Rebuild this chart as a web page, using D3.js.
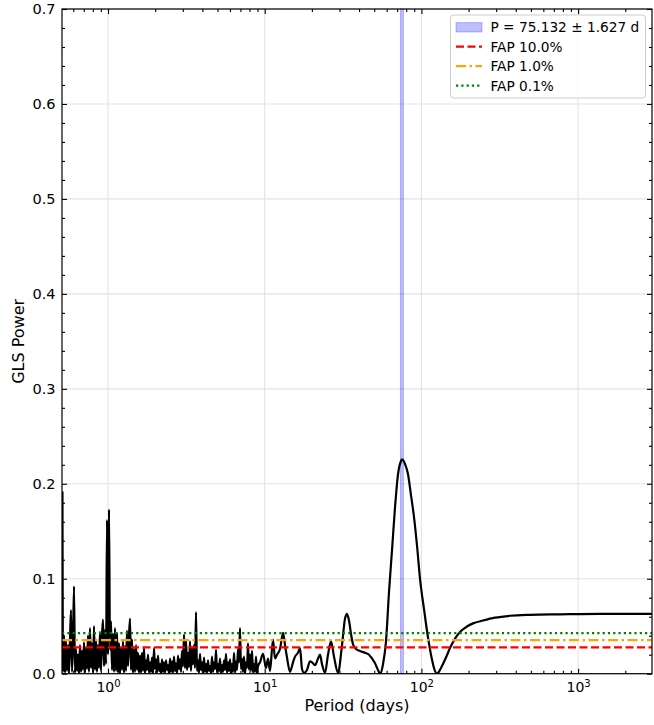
<!DOCTYPE html>
<html>
<head>
<meta charset="utf-8">
<script src="https://cdn.jsdelivr.net/npm/d3@7"></script>
<style>
body { margin: 0; background: #fff; }
svg { font-family: "DejaVu Sans", sans-serif; }
</style>
</head>
<body>
<div class="chart"></div>
<script>
// periodogram: period (days) and GLS power
var periods = [
    0.5120, 0.5162, 0.5238, 0.5316, 0.5394, 0.5474, 0.5555, 0.5637, 0.5721, 0.5805,
    0.5891, 0.5978, 0.6067, 0.6156, 0.6248, 0.6340, 0.6434, 0.6529, 0.6626, 0.6724,
    0.6823, 0.6924, 0.7027, 0.7131, 0.7236, 0.7343, 0.7452, 0.7562, 0.7674, 0.7788,
    0.7903, 0.8020, 0.8138, 0.8259, 0.8381, 0.8505, 0.8631, 0.8759, 0.8888, 0.9020,
    0.9156, 0.9292, 0.9429, 0.9569, 0.9711, 0.9854, 1.0000, 1.0148, 1.0298, 1.0451,
    1.0605, 1.0762, 1.0921, 1.1083, 1.1247, 1.1413, 1.1582, 1.1753, 1.1927, 1.2104,
    1.2283, 1.2464, 1.2649, 1.2836, 1.3026, 1.3219, 1.3414, 1.3613, 1.3814, 1.4018,
    1.4226, 1.4436, 1.4650, 1.4866, 1.5086, 1.5309, 1.5536, 1.5765, 1.5999,
    1.624, 1.648, 1.673, 1.697, 1.722, 1.748, 1.774, 1.800, 1.827, 1.854,
    1.881, 1.909, 1.937, 1.966, 1.995, 2.025, 2.055, 2.085, 2.116, 2.147,
    2.179, 2.211, 2.244, 2.277, 2.311, 2.345, 2.379, 2.415, 2.451, 2.487,
    2.524, 2.561, 2.599, 2.637, 2.676, 2.716, 2.756, 2.797, 2.838, 2.880,
    2.923, 2.966, 3.010, 3.055, 3.100, 3.146, 3.192, 3.240, 3.287, 3.336,
    3.385, 3.436, 3.486, 3.538, 3.590, 3.644, 3.698, 3.752, 3.808, 3.864,
    3.922, 3.980, 4.039, 4.099, 4.159, 4.221, 4.283, 4.347, 4.411, 4.477,
    4.543, 4.610, 4.678, 4.748, 4.818, 4.889, 4.961, 5.035, 5.110, 5.185,
    5.262, 5.340, 5.419, 5.500, 5.581, 5.662, 5.747, 5.832, 5.918, 6.006,
    6.095, 6.184, 6.276, 6.369, 6.464, 6.559, 6.656, 6.754, 6.855, 6.956,
    7.059, 7.163, 7.270, 7.377, 7.487, 7.597, 7.710, 7.823, 7.940, 8.057,
    8.177, 8.297, 8.420, 8.545, 8.672, 8.800, 8.930, 9.062,
    9.333, 9.752, 10.19, 10.50,
    10.81, 11.30, 11.63, 11.98, 12.52, 13.09, 13.48, 13.88, 14.50, 15.16,
    15.61, 16.31, 16.80, 17.30, 17.82, 18.62, 19.46, 20.04, 20.94, 21.89,
    22.54, 23.21, 24.25, 25.35, 26.49, 27.68, 29.37, 31.14, 32.54, 33.51,
    34.51, 35.53, 36.60, 38.24, 40.56, 43.66, 46.30, 48.38, 50.57, 52.84,
    54.43, 56.88, 59.44, 62.12, 64.92, 67.84, 70.90, 74.10, 75.13, 78.58,
    82.13, 85.82, 89.69, 93.74, 97.97, 103.9, 110.2, 116.8, 120.3, 125.8,
    131.4, 135.3, 143.5, 152.2, 163.8, 176.4, 192.6, 213.5, 247.3, 294.9,
    367.7, 493.2, 766.5, 1379, 2962
];
var power = [
    0.192, 0.002, 0.040, 0.001, 0.034, 0.003, 0.030, 0.000, 0.036, 0.067,
    0.002, 0.032, 0.092, 0.001, 0.026, 0.003, 0.020, 0.000, 0.030, 0.002,
    0.024, 0.004, 0.033, 0.001, 0.027, 0.005, 0.040, 0.002, 0.048, 0.006,
    0.032, 0.001, 0.050, 0.004, 0.036, 0.002, 0.030, 0.006, 0.044, 0.003,
    0.040, 0.057, 0.008, 0.046, 0.010, 0.162, 0.020, 0.173, 0.025, 0.055,
    0.004, 0.042, 0.002, 0.048, 0.003, 0.043, 0.001, 0.032, 0.000, 0.027,
    0.004, 0.034, 0.001, 0.029, 0.003, 0.045, 0.008, 0.040, 0.058, 0.004,
    0.036, 0.001, 0.026, 0.002, 0.030, 0.004, 0.022, 0.001, 0.019,
    0.001, 0.022, 0.003, 0.027, 0.000, 0.014, 0.004, 0.020, 0.001, 0.012,
    0.002, 0.017, 0.000, 0.027, 0.005, 0.015, 0.001, 0.019, 0.003, 0.010,
    0.000, 0.015, 0.002, 0.012, 0.001, 0.014, 0.004, 0.009, 0.000, 0.016,
    0.002, 0.013, 0.001, 0.018, 0.003, 0.011, 0.000, 0.019, 0.005, 0.015,
    0.002, 0.024, 0.008, 0.041, 0.006, 0.036, 0.004, 0.022, 0.007, 0.034,
    0.003, 0.028, 0.010, 0.030, 0.006, 0.065, 0.003, 0.014, 0.001, 0.021,
    0.004, 0.012, 0.000, 0.017, 0.002, 0.010, 0.001, 0.014, 0.003, 0.008,
    0.000, 0.018, 0.002, 0.012, 0.005, 0.025, 0.001, 0.010, 0.003, 0.016,
    0.000, 0.009, 0.002, 0.014, 0.004, 0.021, 0.001, 0.012, 0.003, 0.015,
    0.000, 0.010, 0.002, 0.022, 0.001, 0.013, 0.004, 0.026, 0.012, 0.048,
    0.005, 0.016, 0.002, 0.018, 0.000, 0.012, 0.006, 0.032, 0.004, 0.020,
    0.003, 0.024, 0.001, 0.010, 0.002, 0.018, 0.000, 0.008,
    0.012, 0.021, 0.006, 0.016,
    0.003, 0.036, 0.016, 0.020, 0.026, 0.043, 0.030, 0.017, 0.002, 0.012,
    0.018, 0.022, 0.027, 0.005, 0.001, 0.004, 0.013, 0.012, 0.009, 0.016,
    0.020, 0.010, 0.001, 0.020, 0.034, 0.018, 0.001, 0.030, 0.058, 0.063,
    0.056, 0.042, 0.031, 0.026, 0.024, 0.022, 0.020, 0.016, 0.011, 0.004,
    0.000, 0.010, 0.034, 0.086, 0.130, 0.175, 0.210, 0.224, 0.2257, 0.221,
    0.210, 0.188, 0.165, 0.135, 0.100, 0.068, 0.038, 0.015, 0.006, 0.000,
    0.004, 0.008, 0.017, 0.027, 0.037, 0.044, 0.049, 0.053, 0.056, 0.059,
    0.061, 0.062, 0.0625, 0.063, 0.063
];

var bestPeriod = 75.132;
var bestErr = 1.627;

var fapNames = ["FAP 10.0%", "FAP 1.0%", "FAP 0.1%"];
var fapLevels = [0.0277, 0.0354, 0.0428];
var fapColors = ["#ff0000", "#ffa500", "#008000"];
var fapDash = ["8,3.5", "10,3.5,2.5,3.5", "2.2,3.1"];

var xMajor = [1, 10, 100, 1000];
var xExp = ["0", "1", "2", "3"];
var yMajor = [0, 0.1, 0.2, 0.3, 0.4, 0.5, 0.6, 0.7];

var W = 654, H = 725;
var plotL = 62, plotR = 652, plotT = 9, plotB = 673.7;

var x = d3.scaleLog().domain([0.5086, 2962]).range([plotL, plotR]);
var y = d3.scaleLinear().domain([0, 0.7]).range([plotB, plotT]);

var xMinor = [];
[0.1, 1, 10, 100, 1000].forEach(function(base) {
    for (var m = 2; m <= 9; ++m) {
        var v = m * base;
        if (v >= x.domain()[0] && v <= x.domain()[1]) xMinor.push(v);
    }
});
var yMinor = d3.range(1, 35).map(function(i) { return i * 0.02; })
    .filter(function(v, i) { return (i + 1) % 5 != 0; });

var svg = d3.select(".chart").append("svg")
    .attr("width", W)
    .attr("height", H);

svg.append("defs").append("clipPath").attr("id", "plot")
    .append("rect")
    .attr("x", plotL).attr("y", plotT)
    .attr("width", plotR - plotL).attr("height", plotB - plotT);

// grid
var grid = svg.append("g").attr("stroke", "#e3e3e3").attr("stroke-width", 1.1);
grid.selectAll(".gx").data(xMajor).enter().append("line")
    .attr("x1", function(d) { return x(d); })
    .attr("x2", function(d) { return x(d); })
    .attr("y1", plotT).attr("y2", plotB);
grid.selectAll(".gy").data(yMajor).enter().append("line")
    .attr("y1", function(d) { return y(d); })
    .attr("y2", function(d) { return y(d); })
    .attr("x1", plotL).attr("x2", plotR);

// period band
svg.append("rect")
    .attr("x", x(bestPeriod - bestErr))
    .attr("width", x(bestPeriod + bestErr) - x(bestPeriod - bestErr))
    .attr("y", plotT)
    .attr("height", plotB - plotT)
    .attr("fill", "blue").attr("fill-opacity", 0.25)
    .attr("stroke", "blue").attr("stroke-opacity", 0.25);

// periodogram
var pts = periods.map(function(p, i) { return [p, power[i]]; });
var line = d3.line()
    .x(function(d) { return x(d[0]); })
    .y(function(d) { return y(d[1]); })
    .curve(d3.curveMonotoneX);
svg.append("path")
    .datum(pts)
    .attr("clip-path", "url(#plot)")
    .attr("d", line)
    .attr("fill", "none")
    .attr("stroke", "black")
    .attr("stroke-width", 2.2)
    .attr("stroke-linejoin", "round");

// FAP levels
svg.selectAll(".fap").data(fapLevels).enter().append("line")
    .attr("x1", plotL).attr("x2", plotR)
    .attr("y1", function(d) { return y(d); })
    .attr("y2", function(d) { return y(d); })
    .attr("stroke", function(d, i) { return fapColors[i]; })
    .attr("stroke-width", 2.2)
    .attr("stroke-dasharray", function(d, i) { return fapDash[i]; });

// axes, ticks pointing in on all four sides
var styleAxis = function(g) {
    g.select(".domain").remove();
    g.selectAll(".tick line").attr("stroke", "black").attr("stroke-width", 1.1);
    g.attr("font-family", null).attr("font-size", null);
};

svg.append("g").attr("transform", "translate(0," + plotB + ")")
    .call(d3.axisBottom(x).tickValues(xMinor).tickSize(-3).tickFormat(""))
    .call(styleAxis);
svg.append("g").attr("transform", "translate(0," + plotT + ")")
    .call(d3.axisTop(x).tickValues(xMinor).tickSize(-3).tickFormat(""))
    .call(styleAxis);
svg.append("g").attr("transform", "translate(0," + plotT + ")")
    .call(d3.axisTop(x).tickValues(xMajor).tickSize(-5).tickFormat(""))
    .call(styleAxis);

var xAxis = svg.append("g").attr("transform", "translate(0," + plotB + ")")
    .call(d3.axisBottom(x).tickValues(xMajor).tickSize(-5).tickPadding(8.5).tickFormat(function() { return "10"; }))
    .call(styleAxis);
xAxis.selectAll(".tick text")
    .attr("font-size", "14px")
    .attr("fill", "black")
    .append("tspan")
    .attr("dy", "-0.55em")
    .attr("font-size", "10px")
    .text(function(d, i) { return xExp[i]; });

svg.append("g").attr("transform", "translate(" + plotL + ",0)")
    .call(d3.axisLeft(y).tickValues(yMinor).tickSize(-3).tickFormat(""))
    .call(styleAxis);
svg.append("g").attr("transform", "translate(" + plotR + ",0)")
    .call(d3.axisRight(y).tickValues(yMinor).tickSize(-3).tickFormat(""))
    .call(styleAxis);
svg.append("g").attr("transform", "translate(" + plotR + ",0)")
    .call(d3.axisRight(y).tickValues(yMajor).tickSize(-5).tickFormat(""))
    .call(styleAxis);
var yAxis = svg.append("g").attr("transform", "translate(" + plotL + ",0)")
    .call(d3.axisLeft(y).tickValues(yMajor).tickSize(-5).tickPadding(6.5).tickFormat(d3.format(".1f")))
    .call(styleAxis);
yAxis.selectAll(".tick text").attr("font-size", "14.5px").attr("fill", "black");

// frame
svg.append("rect")
    .attr("x", plotL).attr("y", plotT)
    .attr("width", plotR - plotL).attr("height", plotB - plotT)
    .attr("fill", "none").attr("stroke", "black").attr("stroke-width", 1.2);

// axis titles
svg.append("text")
    .attr("x", (plotL + plotR) / 2).attr("y", 711)
    .attr("text-anchor", "middle")
    .attr("font-size", "16px")
    .text("Period (days)");
svg.append("text")
    .attr("transform", "translate(18," + (plotT + plotB) / 2 + ") rotate(-90)")
    .attr("text-anchor", "middle")
    .attr("dy", "0.35em")
    .attr("font-size", "16px")
    .text("GLS Power");

// legend
var lg = svg.append("g").attr("transform", "translate(450.5,15)");
lg.append("rect")
    .attr("width", 195).attr("height", 83).attr("rx", 3)
    .attr("fill", "white").attr("fill-opacity", 0.8)
    .attr("stroke", "#cccccc");
var rowY = [12.3, 31.7, 51.2, 70.6];
lg.append("rect")
    .attr("x", 5.5).attr("y", rowY[0] - 4.7)
    .attr("width", 26).attr("height", 9.4)
    .attr("fill", "blue").attr("fill-opacity", 0.25)
    .attr("stroke", "blue").attr("stroke-opacity", 0.25);
lg.selectAll(".lgline").data(fapNames).enter().append("line")
    .attr("x1", 5.5).attr("x2", 31.5)
    .attr("y1", function(d, i) { return rowY[i + 1]; })
    .attr("y2", function(d, i) { return rowY[i + 1]; })
    .attr("stroke", function(d, i) { return fapColors[i]; })
    .attr("stroke-width", 2.2)
    .attr("stroke-dasharray", function(d, i) { return fapDash[i]; });
lg.selectAll(".lgtext").data(["P = " + bestPeriod.toFixed(3) + " \u00b1 " + bestErr.toFixed(3) + " d"].concat(fapNames))
    .enter().append("text")
    .attr("x", 40)
    .attr("y", function(d, i) { return rowY[i]; })
    .attr("dy", "0.36em")
    .attr("font-size", "13.7px")
    .text(function(d) { return d; });
</script>
</body>
</html>
